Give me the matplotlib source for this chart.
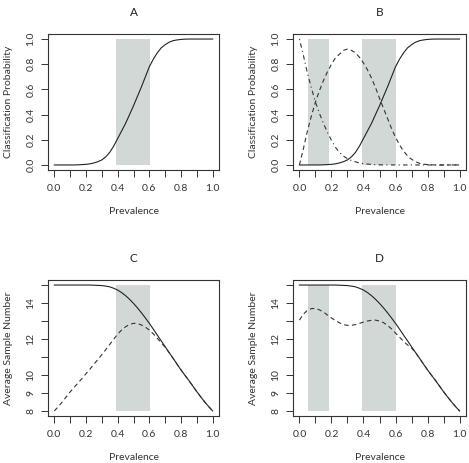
import matplotlib.pyplot as plt
import numpy as np

plt.rcParams['font.family'] = ['Lato', 'DejaVu Sans']

prev = [0.0, 0.025, 0.05, 0.075, 0.1, 0.125, 0.15, 0.175, 0.2, 0.225,
        0.25, 0.275, 0.3, 0.325, 0.35, 0.375, 0.4, 0.425, 0.45, 0.475,
        0.5, 0.525, 0.55, 0.575, 0.6, 0.625, 0.65, 0.675, 0.7, 0.725,
        0.75, 0.775, 0.8, 0.825, 0.85, 0.875, 0.9, 0.925, 0.95, 0.975, 1.0]

# classification probabilities
p_high = [0.0, 0.0, 0.0, 0.0, 0.0, 0.0, 0.001, 0.003, 0.005, 0.009,
          0.016, 0.026, 0.04, 0.065, 0.10, 0.15, 0.21, 0.27, 0.33, 0.40,
          0.47, 0.545, 0.62, 0.70, 0.78, 0.84, 0.89, 0.93, 0.955, 0.975,
          0.987, 0.993, 0.997, 0.999, 1.0, 1.0, 1.0, 1.0, 1.0, 1.0, 1.0]
p_mid = [0.0, 0.13, 0.27, 0.39, 0.50, 0.59, 0.67, 0.74, 0.80, 0.85,
         0.88, 0.91, 0.92, 0.91, 0.89, 0.855, 0.81, 0.755, 0.69, 0.615,
         0.53, 0.45, 0.37, 0.29, 0.22, 0.16, 0.11, 0.072, 0.045, 0.026,
         0.013, 0.006, 0.003, 0.001, 0.0, 0.0, 0.0, 0.0, 0.0, 0.0, 0.0]
p_low = [1.0, 0.87, 0.73, 0.61, 0.50, 0.41, 0.33, 0.26, 0.195, 0.14,
         0.10, 0.07, 0.05, 0.035, 0.025, 0.016, 0.01, 0.007, 0.004, 0.002,
         0.001, 0.0, 0.0, 0.0, 0.0, 0.0, 0.0, 0.0, 0.0, 0.0,
         0.0, 0.0, 0.0, 0.0, 0.0, 0.0, 0.0, 0.0, 0.0, 0.0, 0.0]

# average sample numbers
asn_full = [15.0, 15.0, 15.0, 15.0, 15.0, 15.0, 15.0, 15.0, 15.0, 15.0,
            14.99, 14.98, 14.97, 14.94, 14.9, 14.82, 14.72, 14.58, 14.41, 14.21,
            13.98, 13.73, 13.46, 13.17, 12.87, 12.55, 12.22, 11.9, 11.57, 11.25,
            10.93, 10.6, 10.28, 9.98, 9.69, 9.38, 9.07, 8.78, 8.5, 8.24, 8.0]
asn_two = [8.0, 8.24, 8.5, 8.78, 9.06, 9.31, 9.56, 9.81, 10.07, 10.33,
           10.6, 10.86, 11.13, 11.41, 11.7, 11.99, 12.27, 12.5, 12.68, 12.81,
           12.87, 12.86, 12.78, 12.66, 12.5, 12.29, 12.04, 11.8, 11.54, 11.24,
           10.93, 10.6, 10.28, 9.98, 9.69, 9.38, 9.07, 8.78, 8.5, 8.24, 8.0]
asn_three = [13.05, 13.38, 13.6, 13.69, 13.7, 13.62, 13.5, 13.33, 13.17, 13.02,
             12.9, 12.8, 12.76, 12.76, 12.8, 12.87, 12.94, 13.0, 13.04, 13.05,
             13.0, 12.91, 12.76, 12.56, 12.33, 12.1, 11.87, 11.67, 11.5, 11.24,
             10.93, 10.6, 10.28, 9.98, 9.69, 9.38, 9.07, 8.78, 8.5, 8.24, 8.0]

bands_one = [(0.39, 0.605)]
bands_two = [(0.055, 0.187), (0.39, 0.605)]

W, H = 469, 463
fig = plt.figure(figsize=(W / 100, H / 100), dpi=100)

def make_ax(l, t, r, b):
    return fig.add_axes([l / W, 1 - b / H, (r - l) / W, (b - t) / H])

shade = "#d2d8d6"
lw = 0.8
fs = 7.5

def style(ax, title, ylabel, ylim, yticks, ylabels):
    ax.set_xlim(-0.04, 1.04)
    ax.set_ylim(*ylim)
    ax.set_xticks(np.arange(0, 1.01, 0.1))
    ax.set_xticklabels(["%.1f" % v if i % 2 == 0 else "" for i, v in enumerate(np.arange(0, 1.01, 0.1))])
    ax.set_yticks(yticks)
    ax.set_yticklabels(ylabels, rotation=90, va="center")
    ax.tick_params(length=5, width=0.7, labelsize=fs, pad=5, colors="#333333")
    ax.tick_params(axis="y", pad=4)
    for s in ax.spines.values():
        s.set_linewidth(0.8)
        s.set_color("#333333")
    ax.set_title(title, fontsize=8.5, pad=13, color="#222222")
    ax.set_xlabel("Prevalence", fontsize=fs, labelpad=10, color="#333333")
    ax.set_ylabel(ylabel, fontsize=fs, labelpad=10, color="#333333")

def bands(ax, spans, lo, hi):
    for a, b in spans:
        ax.fill_between([a, b], lo, hi, color=shade, lw=0, zorder=0)

prob_ticks = [0, 0.2, 0.4, 0.6, 0.8, 1.0]
prob_labels = ["0.0", "0.2", "0.4", "0.6", "0.8", "1.0"]
asn_ticks = [8, 9, 10, 11, 12, 13, 14, 15]
asn_labels = ["8", "9", "10", "", "12", "", "14", ""]

dashed = (0, (4, 3))
dotdash = (0, (1, 3, 4, 3))

axA = make_ax(48, 34, 219, 170)
bands(axA, bands_one, 0, 1)
axA.plot(prev, p_high, color="#222222", lw=lw)
style(axA, "A", "Classification Probability", (-0.04, 1.04), prob_ticks, prob_labels)

axB = make_ax(293, 34, 466, 170)
bands(axB, bands_two, 0, 1)
axB.plot(prev, p_high, color="#222222", lw=lw)
axB.plot(prev, p_mid, color="#333333", lw=lw, linestyle=dashed)
axB.plot(prev, p_low, color="#333333", lw=lw, linestyle=dotdash)
style(axB, "B", "Classification Probability", (-0.04, 1.04), prob_ticks, prob_labels)

axC = make_ax(48, 280, 219, 416)
bands(axC, bands_one, 8, 15)
axC.plot(prev, asn_full, color="#222222", lw=lw)
axC.plot(prev, asn_two, color="#333333", lw=lw, linestyle=dashed)
style(axC, "C", "Average Sample Number", (7.72, 15.28), asn_ticks, asn_labels)

axD = make_ax(293, 280, 466, 416)
bands(axD, bands_two, 8, 15)
axD.plot(prev, asn_full, color="#222222", lw=lw)
axD.plot(prev, asn_three, color="#333333", lw=lw, linestyle=dashed)
style(axD, "D", "Average Sample Number", (7.72, 15.28), asn_ticks, asn_labels)

fig.savefig("out.png", dpi=100)
